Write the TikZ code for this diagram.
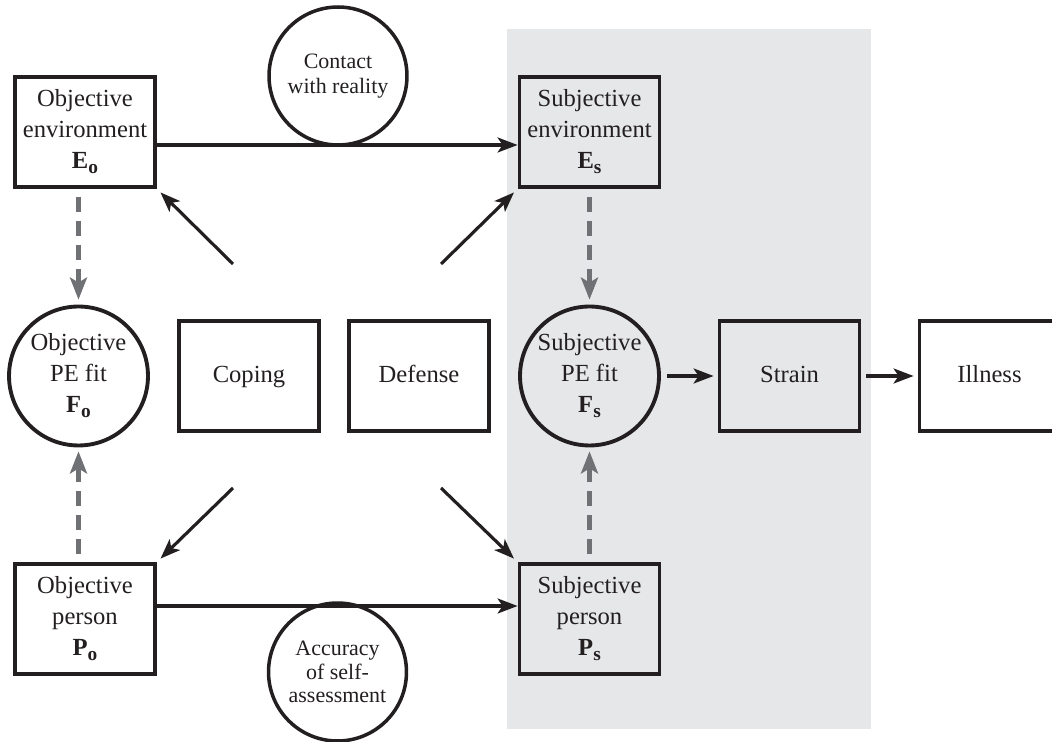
\documentclass[tikz,border=0pt]{standalone}
\usepackage{fontspec}
\setmainfont{Liberation Serif}
\usetikzlibrary{arrows.meta}
\definecolor{panelgray}{RGB}{230,231,232}
\definecolor{linkgray}{RGB}{112,113,116}
\definecolor{ink}{RGB}{35,31,32}
\newcommand{\pevar}[2]{\textbf{#1}\raisebox{-3pt}{\fontsize{11}{11}\selectfont\textbf{#2}}}
\tikzset{
  varbox/.style = {draw=ink, line width=2.2pt, minimum width=2.8cm,
    minimum height=2.2cm, inner sep=0pt, align=center, text=ink,
    font=\fontsize{14}{17.6}\selectfont},
  plainbox/.style = {varbox, text height=1.6ex, text depth=0.1ex},
  pefit/.style = {varbox, circle, minimum size=2.78cm},
  bubble/.style = {draw=ink, circle, line width=2pt, minimum size=2.76cm,
    inner sep=0pt, align=center, text=ink, font=\fontsize{12.5}{14.5}\selectfont},
  arr/.style = {draw=ink, line width=1.8pt,
    -{Stealth[length=0.4cm, width=0.3cm, inset=0.1cm]}},
  dasharr/.style = {draw=linkgray, line width=2.6pt, dash pattern=on 0.3cm off 0.18cm,
    -{Stealth[length=0.44cm, width=0.34cm, inset=0.1cm]}}
}
\begin{document}
\begin{tikzpicture}[x=0.02cm, y=-0.02cm]
  \path[use as bounding box, clip] (0,0) rectangle (1052,742);
  % subjective side
  \fill[panelgray] (507,29) rectangle (871,729);

  \node[varbox] (Eo) at (85,132) {Objective\\environment\\\pevar{E}{o}};
  \node[varbox] (Es) at (589.5,132) {Subjective\\environment\\\pevar{E}{s}};
  \node[varbox] (Po) at (85,619) {Objective\\person\\\pevar{P}{o}};
  \node[varbox] (Ps) at (589.5,619) {Subjective\\person\\\pevar{P}{s}};
  \node[pefit] (Fo) at (78.5,376) {Objective\\PE fit\\\pevar{F}{o}};
  \node[pefit] (Fs) at (589.5,376) {Subjective\\PE fit\\\pevar{F}{s}};
  \node[plainbox] (coping) at (249,376) {Coping};
  \node[plainbox] (defense) at (419,376) {Defense};
  \node[plainbox] (strain) at (789.5,376) {Strain};
  \node[plainbox] (illness) at (989.5,376) {Illness};
  \node[bubble] (contact) at (338,76) {Contact\\with reality};
  \node[bubble, font=\fontsize{12.5}{13.5}\selectfont] (accuracy) at (337.5,672)
    {Accuracy\\of self-\\assessment};

  \coordinate (copUp) at (233,264);
  \coordinate (defUp) at (441,264);
  \coordinate (copDown) at (233,488);
  \coordinate (defDown) at (441,488);

  \draw[arr] ([yshift=-0.26cm]Eo.east) -- ([yshift=-0.26cm]Es.west);
  \draw[arr] ([yshift=0.26cm]Po.east) -- ([yshift=0.26cm]Ps.west);
  \draw[arr, shorten >=0.1cm] (copUp) -- (Eo.south east);
  \draw[arr, shorten >=0.1cm] (defUp) -- (Es.south west);
  \draw[arr, shorten >=0.1cm] (copDown) -- (Po.north east);
  \draw[arr, shorten >=0.1cm] (defDown) -- (Ps.north west);
  \draw[arr, shorten <=0.12cm, shorten >=0.08cm] (Fs) -- (strain);
  \draw[arr, shorten <=0.1cm, shorten >=0.08cm] (strain) -- (illness);

  \draw[dasharr, shorten <=0.16cm, shorten >=0.1cm] (Fo |- Eo.south) -- (Fo.north);
  \draw[dasharr, shorten <=0.16cm, shorten >=0.08cm] (Fo |- Po.north) -- (Fo.south);
  \draw[dasharr, shorten <=0.16cm, shorten >=0.1cm] (Es.south) -- (Fs.north);
  \draw[dasharr, shorten <=0.16cm, shorten >=0.08cm] (Ps.north) -- (Fs.south);
\end{tikzpicture}
\end{document}
